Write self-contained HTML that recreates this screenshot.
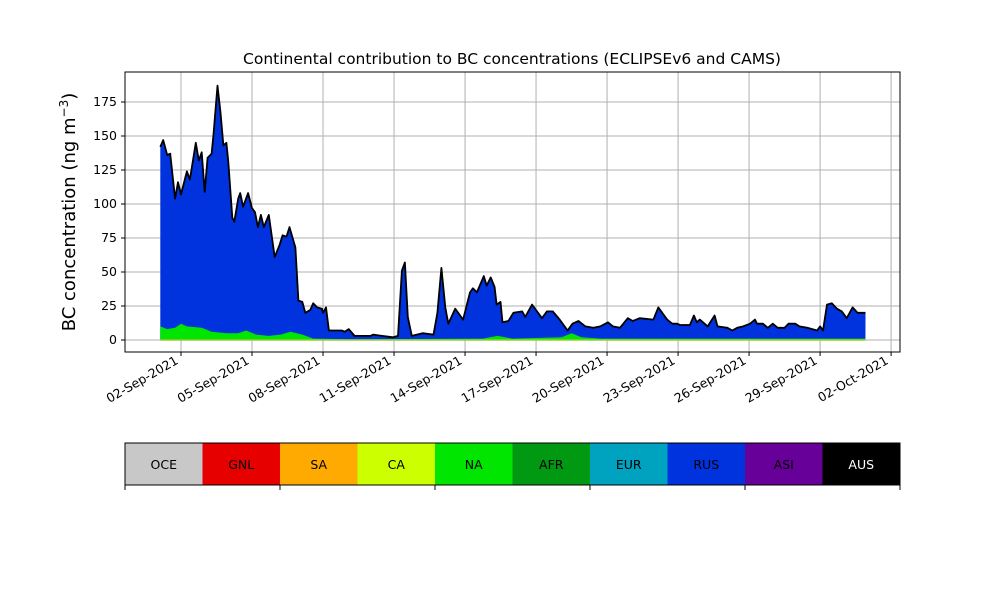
<!DOCTYPE html>
<html><head><meta charset="utf-8"><style>
body{margin:0;background:#fff}
svg text{font-family:"DejaVu Sans","Liberation Sans",sans-serif;fill:#000}
</style></head><body>
<svg id="chart" width="1000" height="600" viewBox="0 0 1000 600">
<text x="512" y="64" font-size="15.5" text-anchor="middle">Continental contribution to BC concentrations (ECLIPSEv6 and CAMS)</text>
<g id="grid"></g>
<g id="marks"></g>
<rect x="125" y="72" width="775" height="280" fill="none" stroke="#000" stroke-width="1"/>
<g id="axes"></g>
<text transform="translate(75,212) rotate(-90)" font-size="18" text-anchor="middle">BC concentration (ng m<tspan dy="-7" font-size="12">−3</tspan><tspan dy="7">)</tspan></text>
<g id="legend"></g>
</svg>
<script>
// hours since 2021-09-01 00:00
const totalHours=[3,6,10,13,18,21,24,30,33,39,42,45,48,51,55,57,61,64,67,70,72,76,78,82,84,87,92,96,99,102,105,108,113,119,124,127,131,134,140,143,147,150,155,158,162,167,168,171,174,187,190,194,200,216,219,228,239,244,248,251,254,258,269,280,284,288,292,295,302,307,310,317,320,324,331,334,338,342,344,348,350,356,361,370,373,380,385,390,395,401,408,416,421,427,434,442,449,457,462,469,477,482,489,503,508,517,522,527,530,540,544,547,550,558,565,568,578,583,588,594,601,606,608,614,619,624,629,636,640,647,651,659,669,672,675,679,684,689,694,699,705,710,718];
const totalValues=[142,147,136,137,104,116,107,124,118,145,132,138,109,134,137,151,187,168,143,145,131,90,87,104,108,98,108,97,94,83,92,83,92,61,70,77,76,83,68,29,28,20,22,27,24,23,20,24,7,7,6,8,3,3,4,3,2,3,51,57,17,3,5,4,20,53,24,12,23,18,15,35,38,35,47,40,46,39,26,28,13,14,20,21,17,26,21,16,21,21,15,7,12,14,10,9,10,13,10,9,16,14,16,15,24,15,12,12,11,11,18,13,15,10,18,10,9,7,9,10,12,15,12,12,9,12,9,9,12,12,10,9,7,10,7,26,27,23,21,16,24,20,20];
const naHours=[3,10,18,24,30,45,55,70,82,90,100,113,125,135,147,158,200,330,345,360,410,420,430,450,718];
const naValues=[10,8,9,12,10,9,6,5,5,7,4,3,4,6,4,1,0.5,1,3,1,2,5,2,1,1];
const yTicks=[0,25,50,75,100,125,150,175];
const dateTicks=["02-Sep-2021","05-Sep-2021","08-Sep-2021","11-Sep-2021","14-Sep-2021","17-Sep-2021","20-Sep-2021","23-Sep-2021","26-Sep-2021","29-Sep-2021","02-Oct-2021"];
const dateTickHours=[24,96,168,240,312,384,456,528,600,672,744];
const regions=["OCE","GNL","SA","CA","NA","AFR","EUR","RUS","ASI","AUS"];
const regionColors=["#c8c8c8","#e60000","#ffaa00","#ccff00","#00e600","#009911","#00a3bf","#0033dd","#660099","#000000"];

const NS="http://www.w3.org/2000/svg";
const X=h=>181+(h-24)/24*23.67;
const Y=v=>340-v*1.36;
function mk(tag,attrs,parent){const e=document.createElementNS(NS,tag);for(const k in attrs)e.setAttribute(k,attrs[k]);parent.appendChild(e);return e;}
const grid=document.getElementById('grid'),marks=document.getElementById('marks'),axes=document.getElementById('axes'),legend=document.getElementById('legend');

yTicks.forEach(t=>{
  const l=mk('line',{x1:125,x2:900,y1:Y(t),y2:Y(t),stroke:'#b0b0b0','stroke-width':1},grid);
  
  
  const tk=mk('line',{x1:121,x2:125,y1:Y(t),y2:Y(t),stroke:'#000'},axes);
  
  
  const tx=mk('text',{x:117,y:Y(t)+4,'font-size':12.5,'text-anchor':'end'},axes);
  tx.textContent=t;
  
  
});
dateTickHours.forEach((h,i)=>{
  const x=X(h);
  const l=mk('line',{x1:x,x2:x,y1:72,y2:352,stroke:'#b0b0b0','stroke-width':1},grid);
  
  
  const tk=mk('line',{x1:x,x2:x,y1:352,y2:356,stroke:'#000'},axes);
  
  
  const tx=mk('text',{transform:`translate(${x-2},${363}) rotate(-30)`,'font-size':12.5,'text-anchor':'end'},axes);
  tx.textContent=dateTicks[i];
  
  
});

function areaPath(hs,vs){let d=`M${X(hs[0])},${Y(0)}`;hs.forEach((h,i)=>d+=`L${X(h).toFixed(1)},${Y(vs[i]).toFixed(1)}`);return d+`L${X(hs[hs.length-1])},${Y(0)}Z`;}
const rus=mk('path',{d:areaPath(totalHours,totalValues),fill:'#0033dd'},marks);


const na=mk('path',{d:areaPath(naHours,naValues),fill:'#00e600'},marks);


const base=mk('line',{x1:X(totalHours[0]),x2:X(totalHours[totalHours.length-1]),y1:Y(0),y2:Y(0),stroke:'#99cc33','stroke-width':1.5},marks);


const tl=mk('polyline',{points:totalHours.map((h,i)=>X(h).toFixed(1)+','+Y(totalValues[i]).toFixed(1)).join(' '),fill:'none',stroke:'#000','stroke-width':1.8,'stroke-linejoin':'round'},marks);



const segW=775/regions.length;
regions.forEach((r,i)=>{
  const g=mk('g',{},legend);
  
  
  mk('rect',{x:125+i*segW,y:443,width:segW,height:42,fill:regionColors[i]},g);
  const t=mk('text',{x:125+i*segW+segW/2,y:469,'font-size':12.5,'text-anchor':'middle'},g);
  if(r==="AUS") t.setAttribute('style','fill:#fff');
  t.textContent=r;
});
const fr=mk('rect',{x:125,y:443,width:775,height:42,fill:'none',stroke:'#000'},legend);


for(let i=0;i<=regions.length;i+=2){
  const tk=mk('line',{x1:125+i*segW,x2:125+i*segW,y1:485,y2:490,stroke:'#000'},legend);
  
  
}
</script>
</body></html>
